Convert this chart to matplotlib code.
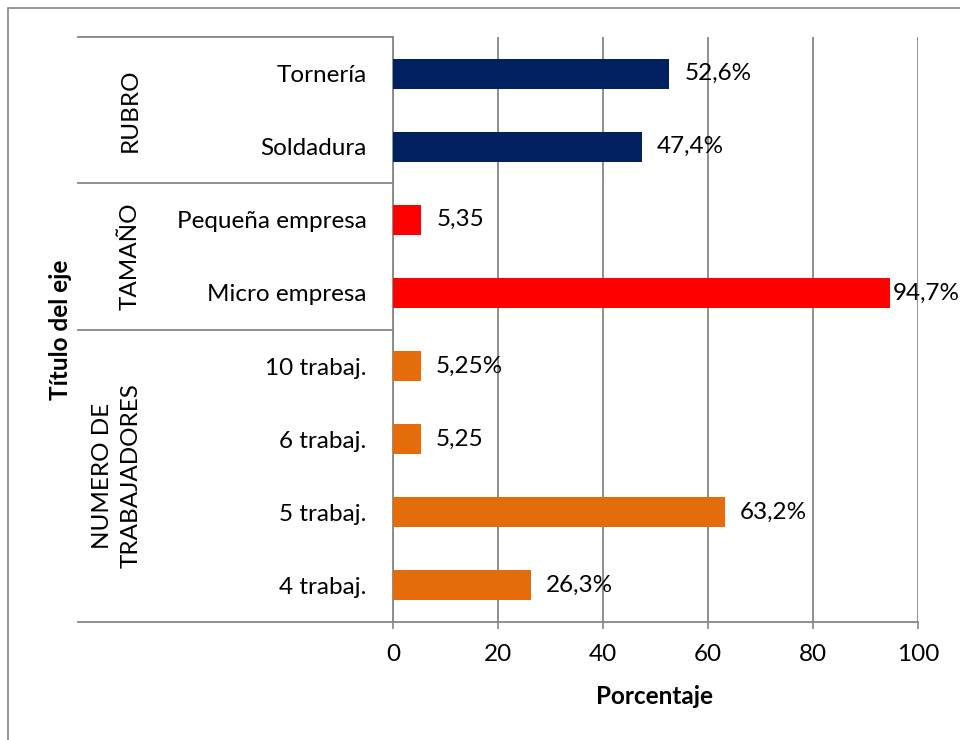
import numpy as np
import matplotlib
matplotlib.use("Agg")
import matplotlib.pyplot as plt
from matplotlib.patches import Rectangle

plt.rcParams["font.family"] = ["Lato", "DejaVu Sans"]

# categorías de abajo hacia arriba
categorias = ["4 trabaj.", "5 trabaj.", "6 trabaj.", "10 trabaj.",
              "Micro empresa", "Pequeña empresa", "Soldadura", "Tornería"]
valores = [26.3, 63.2, 5.25, 5.25, 94.7, 5.35, 47.4, 52.6]
etiquetas = ["26,3%", "63,2%", "5,25", "5,25%", "94,7%", "5,35", "47,4%", "52,6%"]
grupos = ["NUMERO DE\nTRABAJADORES", "TAMAÑO", "RUBRO"]
tam_grupos = [4, 2, 2]

C_NAVY = "#002060"
C_RED = "#FF0000"
C_ORANGE = "#E46C0A"
C_GRID = "#868686"
colores = [C_ORANGE] * 4 + [C_RED] * 2 + [C_NAVY] * 2
FS = 17.5

W, H = 960, 740
fig = plt.figure(figsize=(W / 100, H / 100), dpi=100)
# borde exterior del área del gráfico
fig.patches.append(Rectangle((8 / W, -0.1), 1.2, 1 - 8 / H + 0.1, transform=fig.transFigure,
                             fill=False, edgecolor=C_GRID, lw=1.2))

x0, x1, y0, y1 = 393, 918, 37, 622
ax = fig.add_axes([x0 / W, 1 - y1 / H, (x1 - x0) / W, (y1 - y0) / H])

y = np.arange(len(categorias))
ax.barh(y, valores, height=0.41, color=colores, zorder=3)
ax.set_xlim(0, 100)
ax.set_ylim(-0.5, len(categorias) - 0.5)
ax.set_xticks(range(0, 101, 20))
ax.set_yticks(y)
ax.set_yticklabels(categorias)
ax.tick_params(axis="y", length=0, pad=19, labelsize=FS)
ax.tick_params(axis="x", length=5, color=C_GRID, width=1.2, pad=11, labelsize=FS)
ax.grid(axis="x", color=C_GRID, lw=1.3, zorder=0)
for s in ["top", "right"]:
    ax.spines[s].set_visible(False)
for s in ["left", "bottom"]:
    ax.spines[s].set_color(C_GRID)
    ax.spines[s].set_linewidth(1.3)

# etiquetas de datos
for yi, v, lab in zip(y, valores, etiquetas):
    off = 2 if v > 90 else 11
    ax.annotate(lab, (v, yi), xytext=(off, 0), textcoords="offset points",
                va="center", ha="left", fontsize=FS, zorder=4)

# separadores y nombres de grupo
tr = ax.get_yaxis_transform()
xl = (78 - x0) / (x1 - x0)
lim = -0.5
ax.plot([xl, 0], [lim, lim], transform=tr, color=C_GRID, lw=1.3, clip_on=False)
for g, n in zip(grupos, tam_grupos):
    centro = lim + n / 2
    xg = (117 - x0) / (x1 - x0) if "\n" in g else (130 - x0) / (x1 - x0)
    ax.text(xg, centro, g, transform=tr, rotation=90, ha="center", va="center",
            multialignment="center", fontsize=FS, linespacing=1.45)
    lim += n
    ax.plot([xl, 0], [lim, lim], transform=tr, color=C_GRID, lw=1.3, clip_on=False)

fig.text(60 / W, 1 - (y0 + y1) / 2 / H, "Título del eje", rotation=90, ha="center",
         va="center", fontsize=FS, fontweight="bold")
fig.text(655 / W, 1 - 697 / H, "Porcentaje", ha="center", va="center",
         fontsize=FS, fontweight="bold")

fig.savefig("out.png")
